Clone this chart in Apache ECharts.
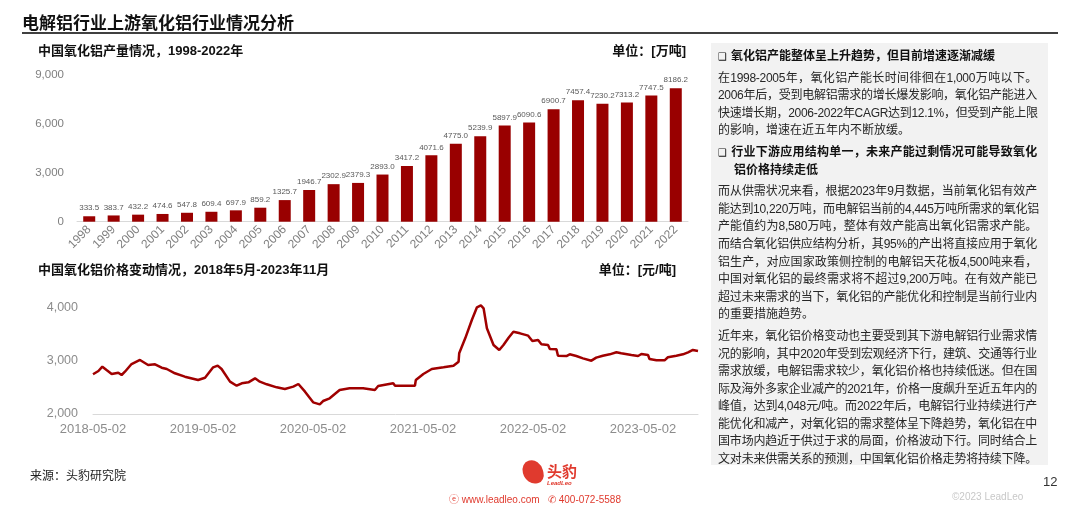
<!DOCTYPE html>
<html>
<head>
<meta charset="utf-8">
<script src="https://cdn.jsdelivr.net/npm/echarts@6/dist/echarts.min.js"></script>
<style>
body {
  margin: 0;
  background-color: #ffffff;
  font-family: "Liberation Sans", "Noto Sans CJK SC", sans-serif;
}
#page {
  position: relative;
  width: 1080px;
  height: 507px;
  overflow: hidden;
}
#chart {
  position: absolute;
  left: 0;
  top: 0;
  width: 1080px;
  height: 507px;
}
.head {
  position: absolute;
  left: 22px;
  top: 9px;
  font-size: 17px;
  font-weight: bold;
  color: #111111;
  font-family: "Noto Sans CJK SC", sans-serif;
}
.headline {
  position: absolute;
  left: 22px;
  top: 32px;
  width: 1036px;
  height: 2px;
  background-color: #404040;
}
.panel {
  position: absolute;
  left: 711px;
  top: 43px;
  width: 337px;
  height: 422px;
  background-color: #f2f2f2;
  box-sizing: border-box;
  padding: 1px 11px 0 7px;
  font-size: 12px;
  line-height: 17.6px;
  color: #262626;
  letter-spacing: -0.3px;
}
.panel .ln {
  text-align: justify;
  text-align-last: justify;
  white-space: nowrap;
}
.panel .end {
  text-align-last: left;
  letter-spacing: 0;
}
.panel .h {
  font-weight: bold;
  color: #111111;
  margin-top: 4px;
}
.panel .h .ln.sub {
  padding-left: 16px;
}
.panel .p {
  margin-top: 4px;
}
.mk {
  font-family: "DejaVu Sans", sans-serif;
  font-size: 10px;
  font-weight: normal;
  margin-right: 4px;
}
.src {
  position: absolute;
  left: 30px;
  top: 466px;
  font-size: 12px;
  color: #222222;
}
.logo {
  position: absolute;
  left: 523px;
  top: 460px;
  width: 20px;
  height: 24px;
  border-radius: 45% 55% 40% 60%;
  background-color: #e03a2e;
  transform: rotate(-15deg);
}
.logo-t {
  position: absolute;
  left: 547px;
  top: 460px;
  font-size: 15px;
  font-weight: bold;
  color: #e03a2e;
  font-family: "Noto Sans CJK SC", sans-serif;
}
.logo-s {
  position: absolute;
  left: 547px;
  top: 480px;
  font-size: 6px;
  font-style: italic;
  font-weight: bold;
  color: #e03a2e;
}
.site {
  position: absolute;
  left: 449px;
  top: 491px;
  font-size: 10px;
  color: #e03a2e;
}
.pg {
  position: absolute;
  left: 1043px;
  top: 474px;
  font-size: 13px;
  color: #333333;
}
.copy {
  position: absolute;
  left: 952px;
  top: 491px;
  font-size: 10px;
  color: #c8c8c8;
}
</style>
</head>
<body>
<div id="page">
  <div id="chart"></div>
  <div class="head">电解铝行业上游氧化铝行业情况分析</div>
  <div class="headline"></div>

  <!-- 右侧文字说明 -->
  <div class="panel">
    <div class="h"><div class="ln end"><span class="mk">❑</span>氧化铝产能整体呈上升趋势，但目前增速逐渐减缓</div></div>
    <div class="p">
      <div class="ln">在1998-2005年，氧化铝产能长时间徘徊在1,000万吨以下。</div>
      <div class="ln">2006年后，受到电解铝需求的增长爆发影响，氧化铝产能进入</div>
      <div class="ln">快速增长期，2006-2022年CAGR达到12.1%，但受到产能上限</div>
      <div class="ln end">的影响，增速在近五年内不断放缓。</div>
    </div>
    <div class="h">
      <div class="ln"><span class="mk">❑</span>行业下游应用结构单一，未来产能过剩情况可能导致氧化</div>
      <div class="ln sub end">铝价格持续走低</div>
    </div>
    <div class="p">
      <div class="ln">而从供需状况来看，根据2023年9月数据，当前氧化铝有效产</div>
      <div class="ln">能达到10,220万吨，而电解铝当前的4,445万吨所需求的氧化铝</div>
      <div class="ln">产能值约为8,580万吨，整体有效产能高出氧化铝需求产能。</div>
      <div class="ln">而结合氧化铝供应结构分析，其95%的产出将直接应用于氧化</div>
      <div class="ln">铝生产，对应国家政策侧控制的电解铝天花板4,500吨来看，</div>
      <div class="ln">中国对氧化铝的最终需求将不超过9,200万吨。在有效产能已</div>
      <div class="ln">超过未来需求的当下，氧化铝的产能优化和控制是当前行业内</div>
      <div class="ln end">的重要措施趋势。</div>
    </div>
    <div class="p">
      <div class="ln">近年来，氧化铝价格变动也主要受到其下游电解铝行业需求情</div>
      <div class="ln">况的影响，其中2020年受到宏观经济下行，建筑、交通等行业</div>
      <div class="ln">需求放缓，电解铝需求较少，氧化铝价格也持续低迷。但在国</div>
      <div class="ln">际及海外多家企业减产的2021年，价格一度飙升至近五年内的</div>
      <div class="ln">峰值，达到4,048元/吨。而2022年后，电解铝行业持续进行产</div>
      <div class="ln">能优化和减产，对氧化铝的需求整体呈下降趋势，氧化铝在中</div>
      <div class="ln">国市场内趋近于供过于求的局面，价格波动下行。同时结合上</div>
      <div class="ln">文对未来供需关系的预测，中国氧化铝价格走势将持续下降。</div>
    </div>
  </div>

  <!-- 页脚 -->
  <div class="src">来源：头豹研究院</div>
  <div class="logo"></div>
  <div class="logo-t">头豹</div>
  <div class="logo-s">LeadLeo</div>
  <div class="site">ⓔ www.leadleo.com&nbsp;&nbsp;&nbsp;✆ 400-072-5588</div>
  <div class="pg">12</div>
  <div class="copy">©2023 LeadLeo</div>
</div>

<script>
// 产量（万吨）
const years = ["1998", "1999", "2000", "2001", "2002", "2003", "2004", "2005", "2006", "2007", "2008", "2009", "2010",
  "2011", "2012", "2013", "2014", "2015", "2016", "2017", "2018", "2019", "2020", "2021", "2022"];
const output = [333.5, 383.7, 432.2, 474.6, 547.8, 609.4, 697.9, 859.2, 1325.7, 1946.7, 2302.9, 2379.3, 2893.0,
  3417.2, 4071.6, 4775.0, 5239.9, 5897.9, 6090.6, 6900.7, 7457.4, 7230.2, 7313.2, 7747.5, 8186.2];
const outputTicks = [0, 3000, 6000, 9000];

// 价格（元/吨）
const priceDates = [
  "2018-05-02", "2018-05-20", "2018-06-02", "2018-06-16", "2018-07-03", "2018-07-25", "2018-08-05", "2018-08-16",
  "2018-09-07", "2018-10-05", "2018-11-01", "2018-11-24", "2018-12-16", "2019-01-02", "2019-01-29", "2019-03-03",
  "2019-04-16", "2019-05-09", "2019-06-05", "2019-06-20", "2019-07-03", "2019-07-31", "2019-08-22", "2019-09-08",
  "2019-09-30", "2019-10-22", "2019-11-07", "2019-11-30", "2020-01-02", "2020-01-29", "2020-02-26", "2020-03-14",
  "2020-04-05", "2020-05-02", "2020-05-24", "2020-06-04", "2020-06-26", "2020-07-29", "2020-08-31", "2020-10-15",
  "2020-11-23", "2020-12-04", "2021-01-23", "2021-01-29", "2021-04-05", "2021-04-08", "2021-05-03", "2021-05-31",
  "2021-07-09", "2021-08-11", "2021-08-28", "2021-08-30", "2021-09-19", "2021-10-11", "2021-10-28", "2021-11-10",
  "2021-11-19", "2021-11-30", "2021-12-22", "2022-01-10", "2022-01-24", "2022-02-10", "2022-02-26", "2022-03-20",
  "2022-04-16", "2022-04-30", "2022-05-19", "2022-05-30", "2022-06-21", "2022-06-27", "2022-07-19", "2022-07-24",
  "2022-08-21", "2022-09-01", "2022-09-23", "2022-10-15", "2022-11-12", "2022-11-28", "2022-12-20", "2023-01-12",
  "2023-02-03", "2023-02-19", "2023-03-25", "2023-04-16", "2023-04-27", "2023-05-19", "2023-05-24", "2023-06-16",
  "2023-07-13", "2023-07-24", "2023-08-21", "2023-09-12", "2023-09-29", "2023-10-15", "2023-11-01"
];
const priceValues = [
  2750, 2811, 2893, 2830, 2755, 2780, 2736, 2798,
  2943, 3019, 2925, 2937, 2874, 2849, 2768, 2704,
  2642, 2685, 2881, 2912, 2849, 2610, 2534, 2579,
  2598, 2673, 2610, 2560, 2503, 2472, 2516, 2566,
  2421, 2220, 2182, 2245, 2296, 2453, 2484, 2484,
  2453, 2528, 2579, 2534, 2534, 2641, 2755, 2849,
  2881, 2912, 2987, 3145, 3428, 3774, 4013, 4048,
  3994, 3617, 3302, 3208, 3302, 3440, 3553, 3522,
  3478, 3377, 3396, 3315, 3302, 3226, 3220, 3100,
  3094, 3126, 3094, 3050, 3006, 3063, 3100, 3126,
  3164, 3145, 3113, 3094, 3132, 3113, 3038, 3013,
  3013, 3070, 3100, 3126, 3164, 3208, 3189
];
const priceTicks = [2000, 3000, 4000];
// x 轴标签：每年 05-02 一个
const priceLabelStart = "2018-05-02";

const DAY = 86400000;
const ts = s => +echarts.time.parse(s);
const t0 = ts(priceLabelStart);
const numFont = "'Liberation Sans', 'Noto Sans CJK SC', sans-serif";
const titleStyle = { fontSize: 13, fontWeight: "bold", color: "#111111", fontFamily: numFont };

let chart = echarts.init(document.getElementById("chart"));
chart.setOption({
  animation: false,
  title: [
    { text: "中国氧化铝产量情况，1998-2022年", left: 38, top: 45, padding: 0, textStyle: titleStyle },
    { text: "单位：[万吨]", right: 394, top: 45, padding: 0, textStyle: titleStyle },
    { text: "中国氧化铝价格变动情况，2018年5月-2023年11月", left: 38, top: 264, padding: 0, textStyle: titleStyle },
    { text: "单位：[元/吨]", right: 404, top: 264, padding: 0, textStyle: titleStyle }
  ],
  grid: [
    { left: 77, right: 392, top: 75, height: 146.7 },
    { left: 93, right: 382, top: 308, height: 106 }
  ],
  xAxis: [
    {
      gridIndex: 0,
      type: "category",
      data: years,
      axisLine: { lineStyle: { color: "#d9d9d9" } },
      axisTick: { show: false },
      axisLabel: { rotate: 45, fontSize: 12, color: "#7f7f7f", margin: 6, fontFamily: numFont }
    },
    {
      gridIndex: 1,
      type: "value",
      min: t0,
      max: ts(priceDates[priceDates.length - 1]),
      interval: 365.25 * DAY,
      axisLine: { show: true, onZero: false, lineStyle: { color: "#d9d9d9" } },
      axisTick: { show: false },
      splitLine: { show: false },
      axisLabel: {
        fontSize: 13,
        color: "#8c8c8c",
        margin: 9,
        fontFamily: numFont,
        showMaxLabel: false,
        formatter: v => echarts.time.format(t0 + Math.round((v - t0) / DAY) * DAY, "{yyyy}-{MM}-{dd}", false)
      }
    }
  ],
  yAxis: [
    {
      gridIndex: 0,
      type: "value",
      min: outputTicks[0],
      max: outputTicks[outputTicks.length - 1],
      interval: outputTicks[1] - outputTicks[0],
      axisLine: { show: false },
      splitLine: { show: false },
      axisLabel: { fontSize: 11.5, color: "#7f7f7f", margin: 13, fontFamily: numFont, formatter: v => v.toLocaleString("en-US") }
    },
    {
      gridIndex: 1,
      type: "value",
      min: priceTicks[0],
      max: priceTicks[priceTicks.length - 1],
      interval: priceTicks[1] - priceTicks[0],
      axisLine: { show: false },
      axisTick: { show: false },
      splitLine: { show: false },
      axisLabel: { fontSize: 12.5, color: "#8c8c8c", margin: 15, fontFamily: numFont, formatter: v => v.toLocaleString("en-US") }
    }
  ],
  series: [
    {
      type: "bar",
      xAxisIndex: 0,
      yAxisIndex: 0,
      data: output,
      barWidth: 12,
      itemStyle: { color: "#990000" },
      label: {
        show: true,
        position: "top",
        distance: 4,
        fontSize: 8,
        color: "#595959",
        fontFamily: numFont,
        formatter: p => p.value.toFixed(1)
      }
    },
    {
      type: "line",
      xAxisIndex: 1,
      yAxisIndex: 1,
      data: priceDates.map((d, i) => [ts(d), priceValues[i]]),
      showSymbol: false,
      clip: false,
      lineStyle: { color: "#a00000", width: 2.5 }
    }
  ]
});
</script>
</body>
</html>
